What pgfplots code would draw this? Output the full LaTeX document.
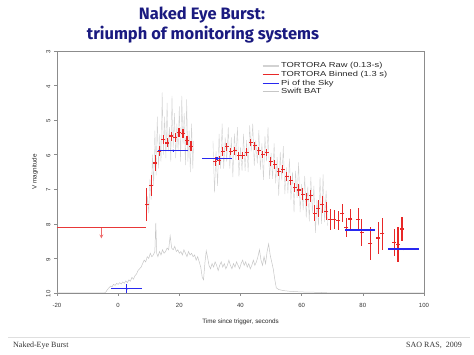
\documentclass[border=0pt]{standalone}
\usepackage{fontspec}
\setmainfont{Liberation Sans}
\newfontfamily\footfont{Liberation Serif}
\newfontfamily\titlefont{Fira Sans}
\usepackage{graphicx}
\usepackage{pgfplots}
\usepackage{pgfplotstable}
\pgfplotsset{compat=1.18}
\definecolor{rawgray}{HTML}{D2D2D2}
\definecolor{batgray}{HTML}{C6C6C6}
\definecolor{tred}{HTML}{E82828}
\definecolor{limred}{HTML}{E83838}
\definecolor{pblue}{HTML}{2828F0}
\definecolor{titleblue}{HTML}{1A1A80}
\definecolor{axgray}{HTML}{8C8C8C}
\newcommand{\legtxt}[1]{\scalebox{1.28}[1]{#1}}

\pgfplotstableread{
t m
9.2 7.9
9.6 7.2
10.0 7.7
10.4 6.7
10.8 7.3
11.2 6.0
11.6 6.9
12.0 5.3
12.4 6.6
12.8 4.9
13.2 6.4
13.6 5.4
14.0 6.2
14.4 4.2
14.8 6.0
15.2 4.9
15.6 6.1
16.0 4.5
16.4 5.9
16.8 5.2
17.2 6.2
17.6 4.3
18.0 5.8
18.4 4.8
18.8 6.1
19.2 5.1
19.6 5.9
20.0 4.6
20.4 6.2
20.8 4.3
21.2 5.7
21.6 4.8
22.0 6.3
22.4 4.4
22.8 6.2
23.2 5.3
23.6 6.5
24.0 5.1
24.4 6.4
24.7 5.6
}\rawA

\pgfplotstableread{
t m
31.0 5.6
31.5 7.1
32.0 5.9
32.5 6.9
33.0 5.4
33.5 6.4
34.0 5.1
34.5 6.4
35.0 5.5
35.5 6.2
36.0 5.2
36.5 6.4
37.0 5.5
37.5 6.65
38.0 5.39
38.5 6.15
39.0 5.2
39.5 6.63
40.0 5.78
40.5 6.47
41.0 5.4
41.5 6.47
42.0 5.58
42.5 6.5
43.0 5.15
43.5 5.9
44.0 5.1
44.5 6.32
45.0 5.58
45.5 6.25
46.0 5.29
46.5 6.43
47.0 5.67
47.5 6.73
48.0 5.46
48.5 6.19
49.0 5.2
49.5 6.7
50.0 5.95
50.5 6.7
51.0 5.67
51.5 6.83
52.0 6.07
52.5 7.19
53.0 5.92
53.5 6.74
54.0 5.75
54.5 7.14
55.0 6.37
55.5 7.12
56.0 6.11
56.5 7.31
57.0 6.5
57.5 7.67
58.0 6.47
58.5 7.25
59.0 6.22
59.5 7.66
60.0 6.85
60.5 7.6
61.0 6.61
61.5 7.82
62.0 6.92
62.5 7.93
63.0 6.64
63.5 7.7
64.0 6.9
64.5 8.26
65.0 7.3
65.5 8.05
66.0 6.65
66.5 8.0
67.0 6.57
67.5 7.95
68.0 7.04
68.5 8.05
}\rawB

\pgfplotstableread{
t m ey
9.4 7.45 0.48
10.8 6.9 0.3
12.1 6.24 0.22
13.4 5.9 0.15
14.7 5.55 0.13
16.0 5.66 0.13
17.3 5.46 0.13
18.6 5.5 0.13
19.9 5.35 0.13
21.2 5.38 0.13
22.5 5.6 0.13
23.8 5.75 0.15
31.7 6.2 0.13
33.0 6.18 0.13
34.2 5.91 0.12
35.5 5.77 0.12
36.8 5.91 0.11
38.1 5.89 0.11
39.4 6.03 0.11
40.7 6.02 0.11
42.0 5.93 0.11
43.4 5.65 0.11
44.7 5.74 0.11
46.0 5.89 0.11
47.3 5.99 0.11
48.6 5.94 0.11
49.9 6.2 0.12
51.2 6.28 0.12
52.5 6.49 0.12
53.8 6.42 0.12
55.1 6.63 0.13
56.4 6.75 0.13
57.7 6.95 0.14
59.1 7.02 0.16
60.4 7.14 0.17
61.7 7.29 0.19
63.0 7.19 0.18
64.2 7.69 0.24
65.5 7.55 0.25
66.8 7.43 0.25
68.1 7.64 0.26
69.4 7.88 0.3
70.7 7.88 0.28
72.0 7.91 0.27
73.3 7.69 0.27
74.6 8.1 0.28
75.9 7.86 0.29
78.5 7.87 0.34
79.6 8.25 0.38
82.5 8.56 0.48
85.1 8.41 0.46
86.4 8.29 0.46
90.3 8.54 0.39
91.5 8.6 0.5
92.8 8.15 0.35
}\binned

\pgfplotstableread{
t m ex ey
2.8 9.88 5.05 0.13
18.0 5.88 4.9 0.03
32.3 6.11 5.05 0.03
79.1 8.18 5.0 0.03
93.4 8.73 5.05 0.03
}\pisky

\pgfplotstableread{
t m
-20 10.0
-4.5 10.0
-4 9.97
-3.5 9.9
-3 9.85
-2.5 9.8
-2 9.82
-1.5 9.75
-1 9.78
-0.5 9.72
0 9.75
0.5 9.7
1 9.74
1.5 9.68
2 9.72
2.5 9.65
3 9.7
3.5 9.62
4 9.66
4.5 9.55
5 9.6
5.5 9.5
6 9.45
6.5 9.35
7 9.3
7.5 9.25
8 9.15
8.5 9.05
9 9.1
9.5 8.95
10 9.0
10.5 8.85
11 8.95
11.5 8.9
12 8.8
12.3 7.97
12.6 8.85
13 8.95
13.5 8.8
14 8.9
14.5 8.75
15 8.85
15.5 8.8
16 8.7
16.5 8.75
17 8.35
17.5 8.7
18 8.75
18.5 8.65
19 8.8
19.5 8.75
20 8.85
20.5 8.8
21 8.9
21.5 8.75
22 8.85
22.5 8.95
23 8.8
23.5 8.9
24 8.85
24.5 8.95
25 8.9
25.5 9.05
26 8.95
26.5 9.1
27 9.25
27.5 9.55
27.9 9.62
28.4 9.1
28.8 8.78
29.2 8.95
29.7 9.2
30.2 9.3
30.7 9.15
31.2 9.25
31.7 9.1
32.2 9.2
32.7 9.35
33.2 9.2
33.7 9.1
34.2 9.25
34.7 9.15
35.2 9.3
35.7 9.2
36.2 9.05
36.7 9.2
37.2 9.3
37.7 9.15
38.2 9.25
38.7 9.1
39.2 9.2
39.7 9.3
40.2 9.15
40.7 9.05
41.2 9.2
41.7 9.1
42.2 9.25
42.7 9.15
43.2 9.3
43.7 9.2
44.2 9.05
44.7 9.2
45.2 9.1
45.7 8.95
46.2 8.75
46.7 9.05
47.2 9.2
47.7 8.95
48.2 9.15
48.7 8.8
49.2 8.58
49.7 8.9
50.2 9.1
50.7 9.3
51.2 9.6
51.7 9.85
52.5 9.9
54 9.93
56 9.95
60 9.97
65 9.98
70 10.0
100 10.0
}\bat

\begin{document}
\begin{tikzpicture}
\path[use as bounding box] (0pt,0pt) rectangle (474pt,355pt);
% title
\node[font=\titlefont\bfseries\fontsize{16.5}{19}\selectfont, text=titleblue] at (202pt,340pt) {Naked Eye Burst:};
\node[font=\titlefont\bfseries\fontsize{16.5}{19}\selectfont, text=titleblue] at (203pt,320pt) {triumph of monitoring systems};
% footer
\draw[gray!25, line width=0.6pt] (8pt,18pt) -- (470pt,18pt);
\node[font=\footfont\fontsize{8}{9}\selectfont, anchor=base west, text=black!80, inner sep=0pt] at (13pt,7pt) {Naked-Eye Burst};
\node[font=\footfont\fontsize{8}{9}\selectfont, anchor=base east, text=black!80, inner sep=0pt] at (462pt,7pt) {SAO RAS,\ \ 2009};
\begin{axis}[
  at={(57pt,62pt)}, anchor=south west,
  width=367pt, height=242pt, scale only axis,
  xmin=-20, xmax=100, ymin=3, ymax=10, y dir=reverse,
  xtick={-20,0,20,40,60,80,100},
  ytick={3,4,5,6,7,8,9,10},
  tick pos=left, tick align=outside,
  major tick length=3pt,
  axis line style={axgray, line width=0.7pt},
  tick style={axgray, line width=0.6pt},
  /pgf/number format/assume math mode=true,
  ticklabel style={font=\fontsize{6}{7}\selectfont, text=black!80},
  yticklabel style={rotate=90, anchor=south, xshift=-1pt},
  xticklabel style={yshift=-4pt},
  xlabel={Time since trigger, seconds},
  ylabel={V magnitude},
  label style={font=\fontsize{6.3}{7}\selectfont, text=black!85},
  xlabel style={yshift=-4pt},
  ylabel style={yshift=1.5pt},
  legend style={at={(rel axis cs:0.555,0.965)}, anchor=north west, draw=none, fill=none,
    font=\fontsize{7.3}{7.5}\selectfont, row sep=-2.2pt, inner sep=1pt,
    nodes={text=black!85}},
  legend cell align=left,
  legend image code/.code={\draw[#1] (0pt,0pt) -- (11pt,0pt); \path (11pt,0pt) -- (16pt,0pt);},
]
\addlegendimage{draw=rawgray, line width=1.2pt}
\addlegendentry{\legtxt{TORTORA Raw (0.13-s)}}
\addlegendimage{draw=tred, line width=1.2pt}
\addlegendentry{\legtxt{TORTORA Binned (1.3 s)}}
\addlegendimage{draw=pblue, line width=1.3pt}
\addlegendentry{\legtxt{Pi of the Sky}}
\addlegendimage{draw=batgray, line width=1.2pt}
\addlegendentry{\legtxt{Swift BAT}}

\addplot[batgray, line width=0.5pt, forget plot] table[x=t, y=m] {\bat};
\addplot[rawgray, line width=0.4pt, forget plot] table[x=t, y=m] {\rawA};
\addplot[rawgray, line width=0.4pt, forget plot] table[x=t, y=m] {\rawB};
% upper limit
\addplot[limred, line width=1.1pt, forget plot] coordinates {(-20,8.1) (9.2,8.1)};
\addplot[limred!75, line width=0.7pt, -stealth, forget plot] coordinates {(-5.5,8.12) (-5.5,8.42)};
% binned
\addplot[tred, only marks, mark=-, mark size=2pt, mark options={tred, line width=1.1pt}, forget plot,
  error bars/.cd, y dir=both, y explicit,
  error mark=none, error bar style={tred, line width=1.1pt}]
  table[x=t, y=m, y error=ey] {\binned};
% pi of the sky
\addplot[only marks, mark=*, mark size=0.8pt, pblue, forget plot,
  error bars/.cd, x dir=both, x explicit, y dir=both, y explicit,
  error mark=none, error bar style={draw=pblue, line width=1.3pt}]
  table[x=t, y=m, x error=ex, y error=ey] {\pisky};
\end{axis}
\end{tikzpicture}
\end{document}
